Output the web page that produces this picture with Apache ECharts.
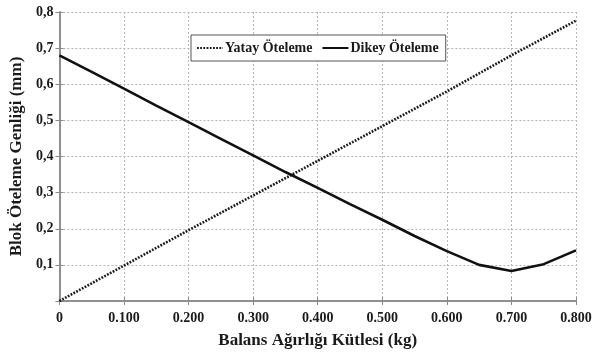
<!DOCTYPE html>
<html>
<head>
<meta charset="utf-8">
<script src="https://cdn.jsdelivr.net/npm/echarts@6/dist/echarts.min.js"></script>
<style>
  html, body { margin: 0; padding: 0; background: #fff; }
  #chart { width: 603px; height: 354px; }
</style>
</head>
<body>
<div id="chart"></div>
<script>
// Balance mass (kg)
const masses = [0, 0.05, 0.1, 0.15, 0.2, 0.25, 0.3, 0.35, 0.4, 0.45, 0.5, 0.55, 0.6, 0.65, 0.7, 0.75, 0.8];
// Horizontal displacement amplitude (mm)
const yatay = [0, 0.049, 0.098, 0.147, 0.196, 0.244, 0.292, 0.340, 0.388, 0.436, 0.484, 0.532, 0.580, 0.630, 0.680, 0.728, 0.776];
// Vertical displacement amplitude (mm)
const dikey = [0.680, 0.634, 0.588, 0.541, 0.495, 0.449, 0.403, 0.357, 0.313, 0.268, 0.225, 0.180, 0.138, 0.100, 0.083, 0.102, 0.140];

const xTicks = ['0', '0.100', '0.200', '0.300', '0.400', '0.500', '0.600', '0.700', '0.800'];
const yTicks = ['', '0,1', '0,2', '0,3', '0,4', '0,5', '0,6', '0,7', '0,8'];

const seriesNames = ['Yatay Öteleme', 'Dikey Öteleme'];

const FONT = '"Liberation Serif", "DejaVu Serif", serif';
const INK = '#1a1a1a';
const FRAME = '#8a8a8a';

const pairs = arr => masses.map((m, i) => [m, arr[i]]);

const chart = echarts.init(document.getElementById('chart'), null, { renderer: 'canvas' });

const gridLine = { show: true, lineStyle: { color: '#b5b5b5', type: [2, 2], width: 1 } };

chart.setOption({
  animation: false,
  backgroundColor: '#fff',
  grid: { left: 57, right: 27, top: 12, bottom: 53 },
  legend: {
    data: seriesNames,
    left: 191,
    top: 35,
    orient: 'horizontal',
    itemWidth: 26,
    itemHeight: 10,
    itemGap: 9,
    padding: [6, 7, 6, 5],
    borderColor: '#555',
    borderWidth: 1,
    backgroundColor: '#fff',
    itemStyle: { opacity: 0 },
    textStyle: { fontFamily: FONT, fontWeight: 'bold', fontSize: 14, color: INK, padding: [0, 0, 0, -3] }
  },
  xAxis: [{
    type: 'value',
    min: 0, max: 0.8, interval: 0.1,
    name: 'Balans Ağırlığı Kütlesi (kg)',
    nameLocation: 'middle',
    nameGap: 31,
    nameTextStyle: { fontFamily: FONT, fontWeight: 'bold', fontSize: 17, color: INK },
    axisLine: { show: true, onZero: false, lineStyle: { color: FRAME, width: 1.5 } },
    axisTick: { show: true, inside: true, length: 4, lineStyle: { color: FRAME } },
    axisLabel: {
      fontFamily: FONT, fontWeight: 'bold', fontSize: 14, color: INK, margin: 10,
      formatter: v => xTicks[Math.round(v * 10)]
    },
    splitLine: gridLine
  }, {
    type: 'value', position: 'top',
    min: 0, max: 0.8, interval: 0.1,
    axisLine: { show: true, lineStyle: { color: FRAME, width: 1.5 } },
    axisTick: { show: true, inside: true, length: 4, lineStyle: { color: FRAME } },
    axisLabel: { show: false },
    splitLine: { show: false }
  }],
  yAxis: [{
    type: 'value',
    min: 0, max: 0.8, interval: 0.1,
    name: 'Blok Öteleme Genliği (mm)',
    nameLocation: 'middle',
    nameGap: 33,
    nameTextStyle: { fontFamily: FONT, fontWeight: 'bold', fontSize: 17, color: INK },
    axisLine: { show: true, onZero: false, lineStyle: { color: FRAME, width: 1.5 } },
    axisTick: { show: true, inside: true, length: 4, lineStyle: { color: FRAME } },
    axisLabel: {
      fontFamily: FONT, fontWeight: 'bold', fontSize: 14, color: INK, margin: 6,
      formatter: v => yTicks[Math.round(v * 10)]
    },
    splitLine: gridLine
  }, {
    type: 'value', position: 'right',
    min: 0, max: 0.8, interval: 0.1,
    axisLine: { show: true, lineStyle: { color: FRAME, width: 1.5 } },
    axisTick: { show: true, inside: true, length: 4, lineStyle: { color: FRAME } },
    axisLabel: { show: false },
    splitLine: { show: false }
  }],
  series: [{
    name: seriesNames[0],
    type: 'line',
    data: pairs(yatay),
    symbol: 'none',
    color: '#1a1a1a',
    lineStyle: { color: '#1a1a1a', width: 2.6, type: [1.8, 1.4] }
  }, {
    name: seriesNames[1],
    type: 'line',
    data: pairs(dikey),
    symbol: 'none',
    color: '#111',
    lineStyle: { color: '#111', width: 2.6, type: 'solid' }
  }]
});
</script>
</body>
</html>
